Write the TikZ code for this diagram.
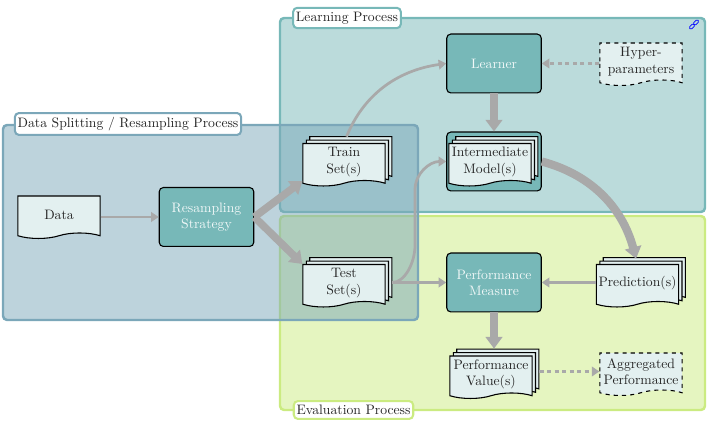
\documentclass[tikz,border=0pt]{standalone}
\usepackage{xcolor}
\usepackage{tikz}
\usetikzlibrary{shapes.symbols}
\usetikzlibrary{shadows}
\usetikzlibrary{arrows.meta}

\definecolor{learnteal}{HTML}{77B8B8}
\definecolor{evalgreen}{HTML}{CBEB81}
\definecolor{splitblue}{HTML}{7BA7B9}
\definecolor{docfill}{HTML}{E3F0F0}
\definecolor{flowgray}{HTML}{A9A9A9}

\tikzset{
  processbox/.style = {rounded corners = 3pt, line width = 1.8pt, draw = #1, fill = #1, fill opacity = 0.5},
  processlabel/.style = {rounded corners = 3pt, line width = 1.5pt, draw = #1, fill = white, text = black!85, inner xsep = 2pt, inner ysep = 3pt},
  taskbox/.style = {draw = black, thick, rounded corners = 3pt, fill = learnteal, text = white!90!learnteal, align = center,
    minimum width = 69pt, minimum height = 43pt},
  docbox/.style = {tape, tape bend top = none, tape bend bottom = in and out, tape bend height = 4pt, draw = black, thick,
    fill = docfill, text = black!85, align = center, inner sep = 0pt, minimum width = 60pt, minimum height = 31pt},
  docstack/.style = {docbox, double copy shadow = {shadow xshift = 2.5pt, shadow yshift = 2.5pt}},
  optdoc/.style = {docbox, dashed},
  thinflow/.style = {draw = flowgray, line width = 2pt, -{Triangle[length = 5.5pt, width = 7pt]}},
  thickflow/.style = {draw = flowgray, line width = 5.5pt, -{Triangle[length = 8.5pt, width = 12pt]}},
  optflow/.style = {thinflow, dash pattern = on 3pt off 2.5pt},
  linkmark/.style = {draw = blue, line width = 0.5pt, rounded corners = 1pt, rotate = 45, inner sep = 0pt,
    minimum width = 4.5pt, minimum height = 2.2pt}
}

\begin{document}
\begin{tikzpicture}[x = 0.73pt, y = -0.73pt]
\useasboundingbox (0, 0) rectangle (711, 423);

\draw [processbox = learnteal] (280, 18) rectangle (705, 212);
\draw [processbox = evalgreen] (280, 216) rectangle (705, 410);
\draw [processbox = splitblue] (3, 125) rectangle (418, 320);

\node [processlabel = learnteal] (learnlabel) at (347, 18) {Learning Process};
\node [processlabel = evalgreen] (evallabel) at (353.5, 410) {Evaluation Process};
\node [processlabel = splitblue] (splitlabel) at (128, 124) {Data Splitting / Resampling Process};
\node [linkmark] (linklow) at (692, 26.5) {};
\node [linkmark] (linkhigh) at (696, 22.5) {};

\node [docbox] (data) at (59, 214.5) {Data};
\node [taskbox] (strategy) at (206.5, 217) {Resampling\\Strategy};
\node [docstack] (train) at (344, 162) {Train\\Set(s)};
\node [docstack] (test) at (344, 283) {Test\\Set(s)};
\node [taskbox] (learner) at (494, 63.5) {Learner};
\node [taskbox] (modelbox) at (494, 161.5) {};
\node [docstack] (model) at (490, 162) {Intermediate\\Model(s)};
\node [optdoc] (hyper) at (641, 61.5) {Hyper-\\parameters};
\node [taskbox] (measure) at (494, 282.5) {Performance\\Measure};
\node [docstack] (prediction) at (637.5, 283) {Prediction(s)};
\node [docstack] (value) at (491, 374.5) {Performance\\Value(s)};
\node [optdoc] (aggregated) at (641, 371.5) {Aggregated\\Performance};

\coordinate (bendlow) at (415, 245);
\coordinate (bendhigh) at (415, 190);

\draw [thinflow] (data.east |- strategy.west) -- (strategy.west);
\draw [thickflow] (strategy.east) -- (train.south west);
\draw [thickflow] (strategy.east) -- (test.north west);
\draw [thinflow, shorten <= 5pt] (train.north) to [out = 68, in = 188] (learner.west);
\draw [thinflow, shorten <= 5pt] (test.east |- measure.west) -- (measure.west);
\draw [thinflow, shorten <= 5pt] (test.east |- measure.west) to [out = 0, in = -90] (bendlow) -- (bendhigh)
  to [out = 90, in = 180] (modelbox.west);
\draw [thickflow] (learner.south) -- (modelbox.north);
\draw [optflow] (hyper.west |- learner.east) -- (learner.east);
\draw [thickflow, line width = 6pt, shorten >= 4pt] (modelbox.east) to [out = -15, in = 105] (prediction.north);
\draw [thinflow] (prediction.west |- measure.east) -- (measure.east);
\draw [thickflow, shorten >= 5pt] (measure.south) -- (measure.south |- value.north);
\draw [optflow, shorten <= 5pt] (value.east |- aggregated.west) -- (aggregated.west);
\end{tikzpicture}
\end{document}
